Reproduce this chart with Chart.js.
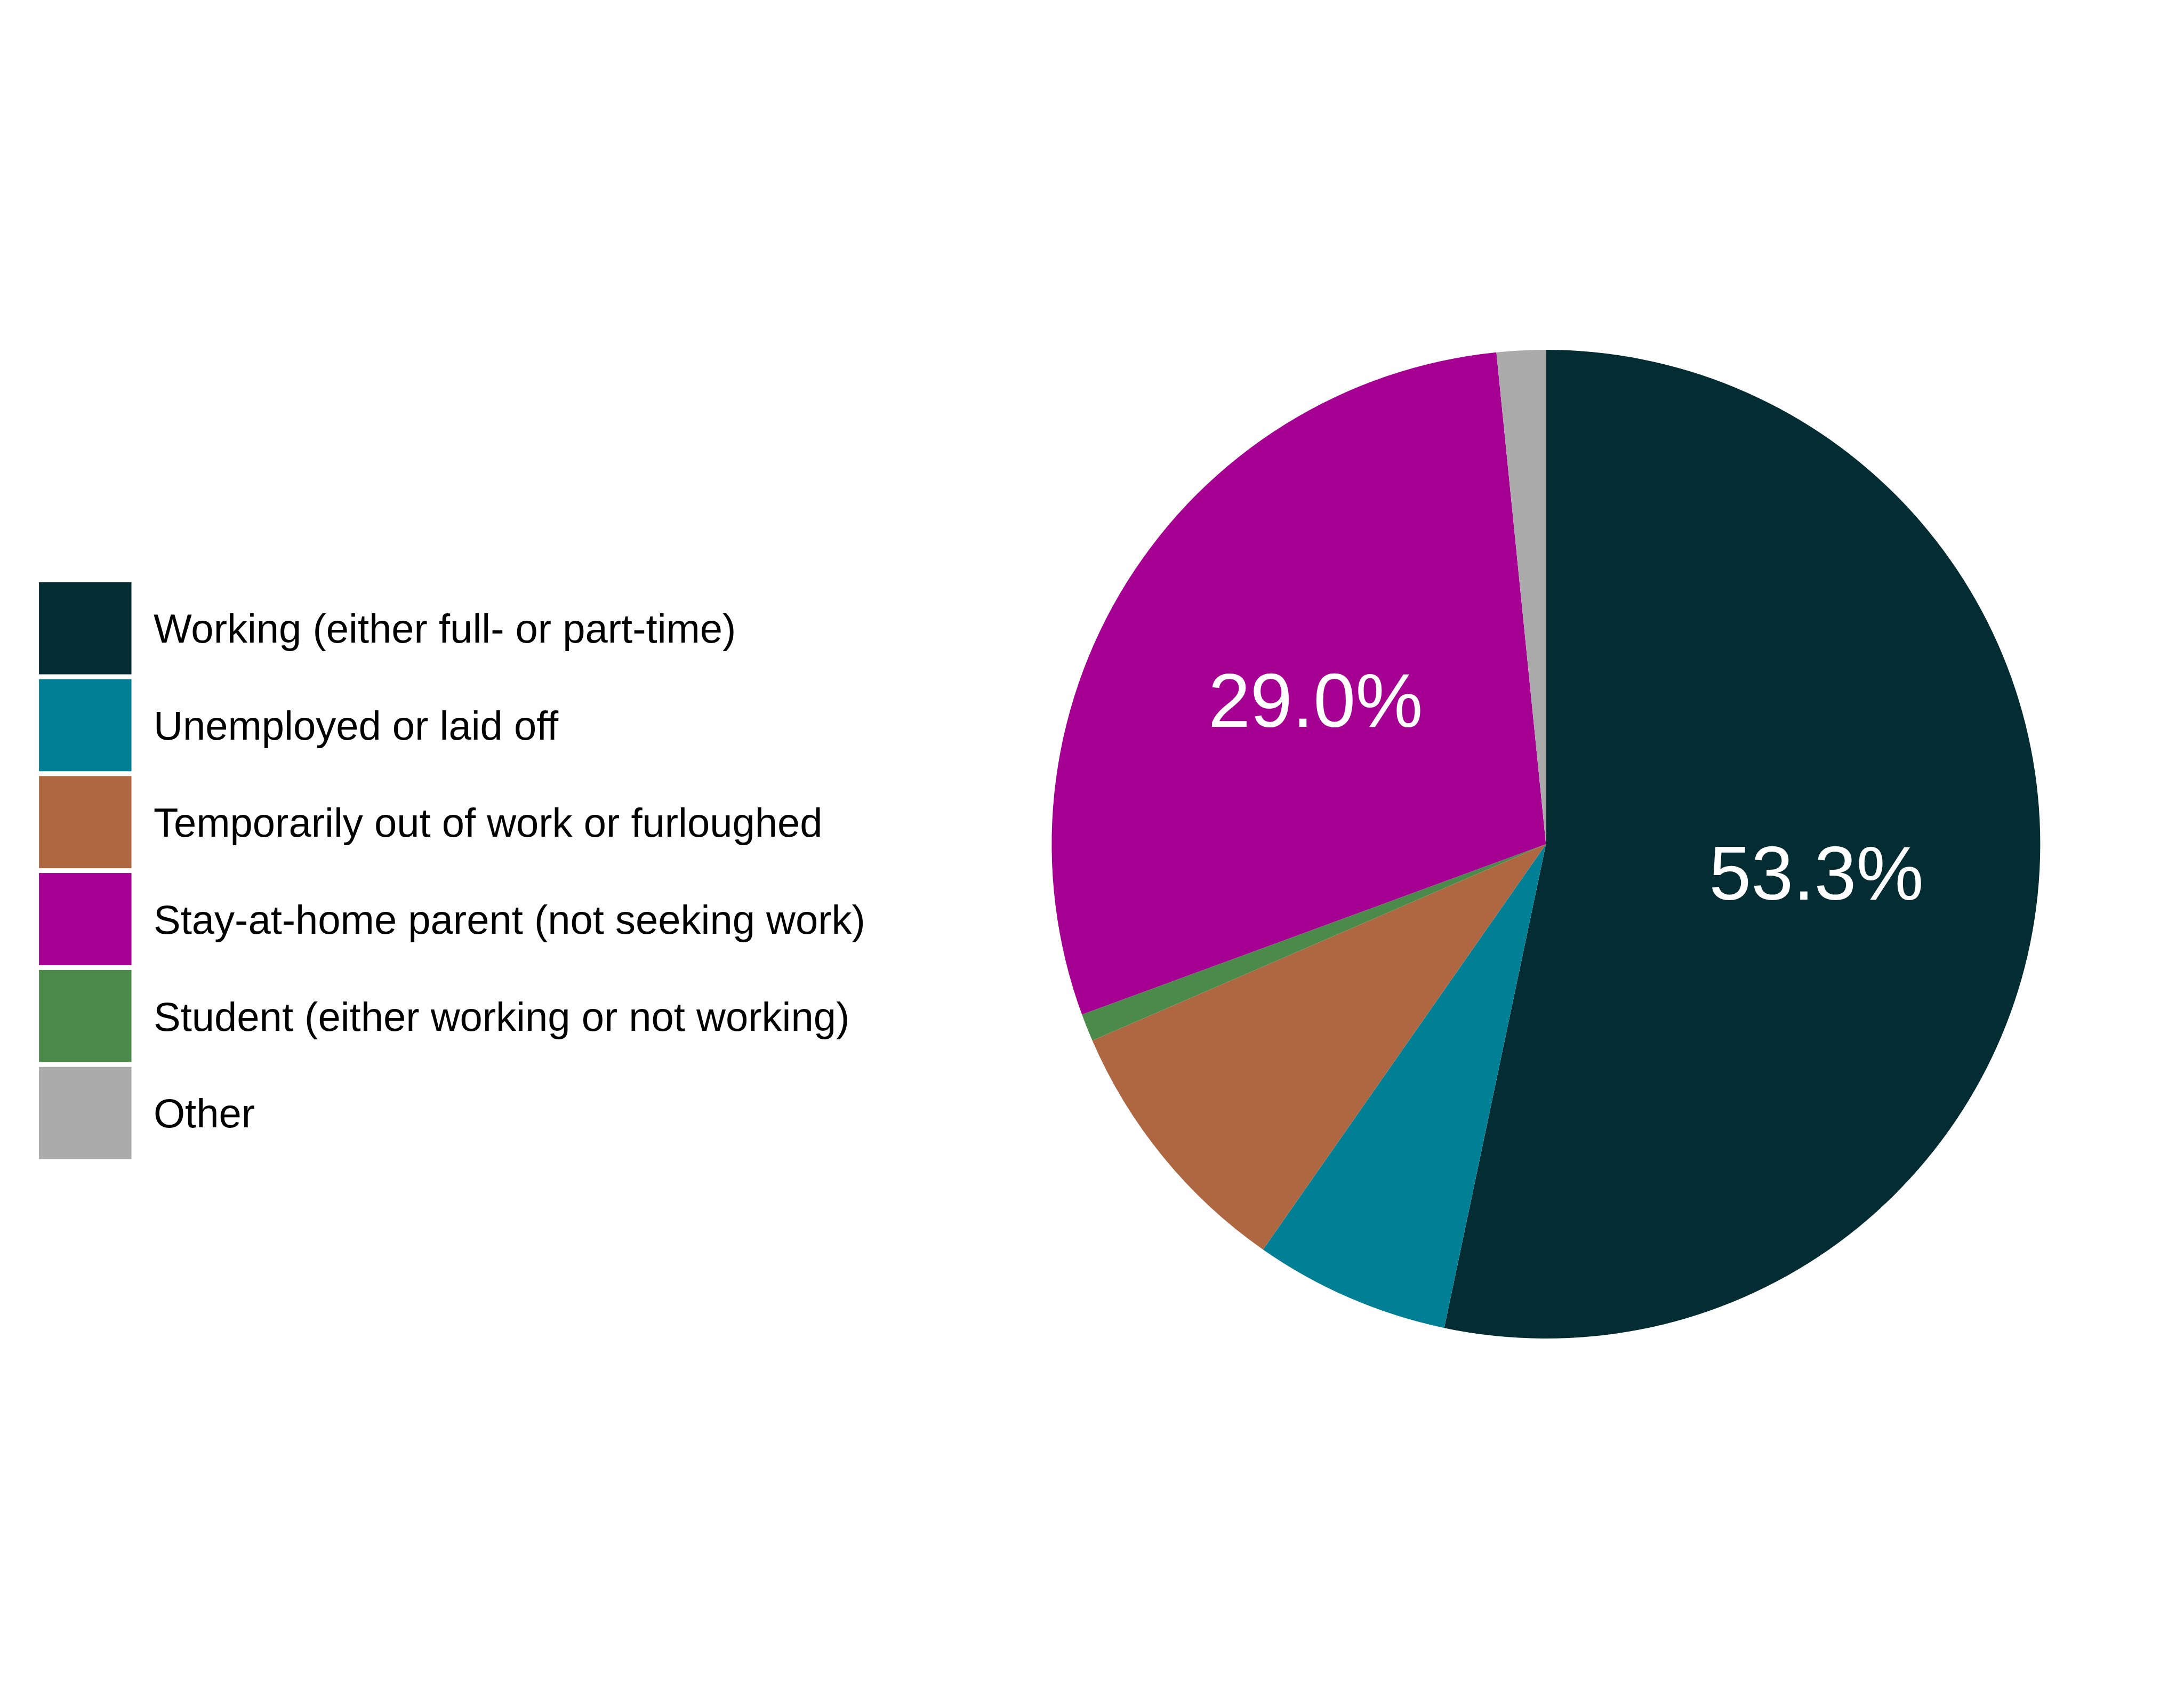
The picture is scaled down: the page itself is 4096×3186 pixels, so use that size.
<!DOCTYPE html>
<html>
<head>
<meta charset="utf-8">
<script src="https://cdn.jsdelivr.net/npm/chart.js@4/dist/chart.umd.min.js"></script>
<style>
  html, body { margin: 0; padding: 0; background: #ffffff; }
  #wrap { width: 4096px; height: 3186px; }
</style>
</head>
<body>
<div id="wrap"><canvas id="c" width="4096" height="3186"></canvas></div>
<script>
const categories = [
  "Working (either full- or part-time)",
  "Unemployed or laid off",
  "Temporarily out of work or furloughed",
  "Stay-at-home parent (not seeking work)",
  "Student (either working or not working)",
  "Other"
];
const shares = [53.3, 6.4, 8.8, 29.0, 0.9, 1.6];
// drawing order around the pie (clockwise from 12 o'clock)
const pieOrder = [0, 1, 2, 4, 3, 5];
const colors = ["#032C33", "#007F95", "#AF6742", "#A60093", "#4B8A4B", "#AAAAAA"];
const labelThreshold = 10;

const FONT = '"Liberation Sans", Arial, Helvetica, sans-serif';

const pieLabels = pieOrder.map(i => categories[i]);
const pieValues = pieOrder.map(i => shares[i]);
const pieColors = pieOrder.map(i => colors[i]);

const sliceLabelPlugin = {
  id: 'sliceLabels',
  afterDatasetsDraw(chart) {
    const ctx = chart.ctx;
    const meta = chart.getDatasetMeta(0);
    const F = 142;
    ctx.save();
    ctx.font = F + 'px ' + FONT;
    ctx.fillStyle = '#ffffff';
    ctx.textAlign = 'center';
    ctx.textBaseline = 'alphabetic';
    meta.data.forEach((arc, i) => {
      const v = pieValues[i];
      if (v < labelThreshold) return;
      const p = arc.getProps(['x', 'y', 'startAngle', 'endAngle', 'outerRadius'], true);
      const mid = (p.startAngle + p.endAngle) / 2;
      const r = p.outerRadius * 0.55;
      const x = p.x + Math.cos(mid) * r;
      const y = p.y + Math.sin(mid) * r;
      ctx.fillText(v.toFixed(1) + '%', x, y + 0.358 * F);
    });
    ctx.restore();
  }
};

const legendPlugin = {
  id: 'customLegend',
  afterDraw(chart) {
    const ctx = chart.ctx;
    const boxX = 73.1, boxW = 173.4, boxH = 172.8, pitch = 181.8, top0 = 1091.7;
    const textX = 288, F = 76;
    ctx.save();
    ctx.font = F + 'px ' + FONT;
    ctx.textAlign = 'left';
    ctx.textBaseline = 'alphabetic';
    categories.forEach((name, i) => {
      const top = top0 + i * pitch;
      ctx.fillStyle = colors[i];
      ctx.fillRect(boxX, top, boxW, boxH);
      ctx.fillStyle = '#000000';
      ctx.fillText(name, textX, top + boxH / 2 + 0.36 * F);
    });
    ctx.restore();
  }
};

new Chart(document.getElementById('c'), {
  type: 'pie',
  data: {
    labels: pieLabels,
    datasets: [{
      data: pieValues,
      backgroundColor: pieColors,
      borderWidth: 0,
      hoverOffset: 0,
      offset: 0
    }]
  },
  options: {
    responsive: false,
    maintainAspectRatio: false,
    devicePixelRatio: 1,
    animation: false,
    layout: { padding: { left: 1972.4, right: 269.6, top: 656.1, bottom: 675.9 } },
    plugins: {
      legend: { display: false },
      tooltip: { enabled: false },
      title: { display: false }
    },
    events: []
  },
  plugins: [sliceLabelPlugin, legendPlugin]
});
</script>
</body>
</html>
